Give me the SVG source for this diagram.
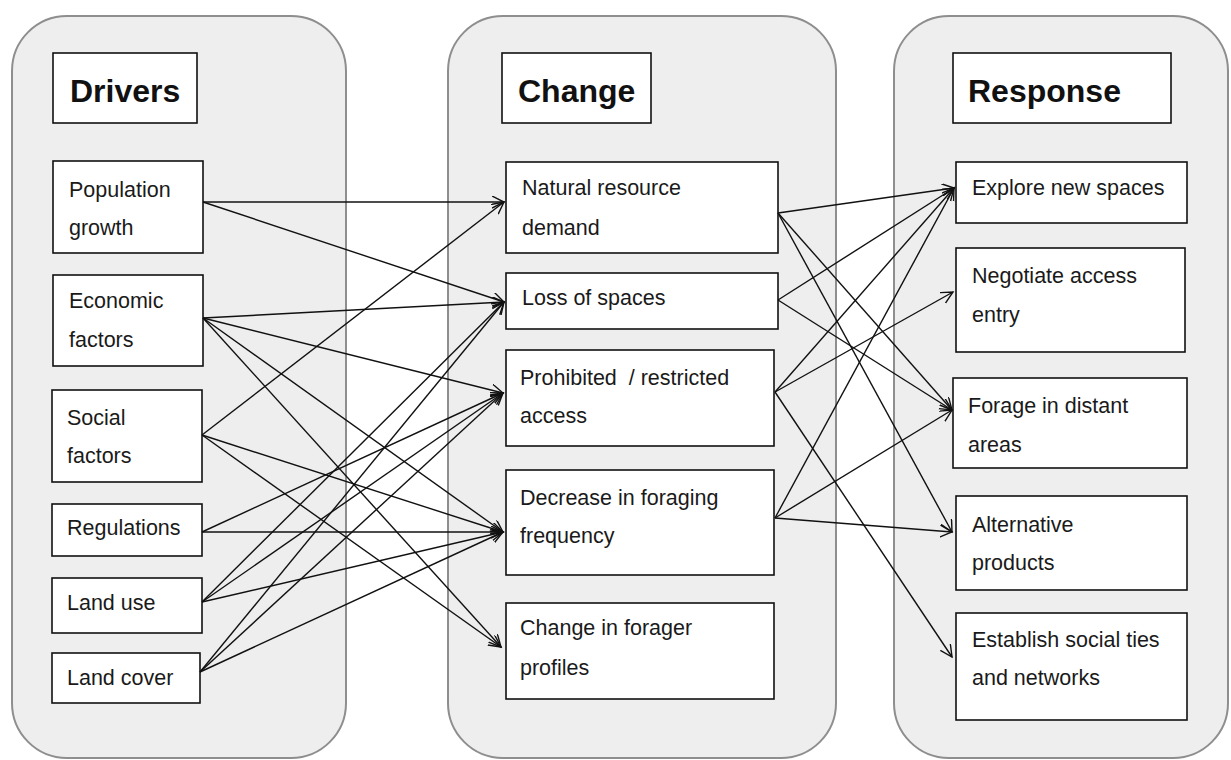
<svg xmlns="http://www.w3.org/2000/svg" width="1231" height="760" viewBox="0 0 1231 760">
<style>
.cont{fill:#eeeeee;stroke:#8e8e8e;stroke-width:2}
.box{fill:#ffffff;stroke:#111111;stroke-width:1.6}
.t{font-family:"Liberation Sans",Arial,sans-serif;font-size:21.5px;fill:#1a1a1a}
.h{font-family:"Liberation Sans",Arial,sans-serif;font-size:32px;font-weight:bold;fill:#111111}
.c line{stroke:#111111;stroke-width:1.4;marker-end:url(#ah)}
</style>
<defs>
<marker id="ah" markerUnits="userSpaceOnUse" markerWidth="14" markerHeight="14" refX="12" refY="6" orient="auto">
<path d="M0,0 L12,6 L0,12" fill="none" stroke="#111111" stroke-width="1.4"/>
</marker>
</defs>
<rect x="0" y="0" width="1231" height="760" fill="#ffffff"/>
<g id="containers">
<rect class="cont" x="12" y="16" width="334" height="742" rx="55"/>
<rect class="cont" x="448" y="16" width="388" height="742" rx="55"/>
<rect class="cont" x="894" y="16" width="334" height="742" rx="55"/>
</g>
<g id="drivers-title"><rect class="box" x="53" y="53" width="144" height="70"/><text class="h" x="70" y="102">Drivers</text></g>
<g id="population"><rect class="box" x="53" y="161" width="150" height="92"/><text class="t" x="69" y="197">Population</text><text class="t" x="69" y="235">growth</text></g>
<g id="economic"><rect class="box" x="53" y="275" width="150" height="91"/><text class="t" x="69" y="308">Economic</text><text class="t" x="69" y="347">factors</text></g>
<g id="social"><rect class="box" x="52" y="390" width="150" height="92"/><text class="t" x="67" y="425">Social</text><text class="t" x="67" y="463">factors</text></g>
<g id="regulations"><rect class="box" x="52" y="504" width="150" height="52"/><text class="t" x="67" y="535">Regulations</text></g>
<g id="landuse"><rect class="box" x="52" y="578" width="150" height="55"/><text class="t" x="67" y="610">Land use</text></g>
<g id="landcover"><rect class="box" x="52" y="653" width="148" height="50"/><text class="t" x="67" y="685">Land cover</text></g>

<g id="change-title"><rect class="box" x="502" y="53" width="149" height="70"/><text class="h" x="518" y="102">Change</text></g>
<g id="nrd"><rect class="box" x="506" y="162" width="272" height="91"/><text class="t" x="522" y="195">Natural resource</text><text class="t" x="522" y="235">demand</text></g>
<g id="los"><rect class="box" x="506" y="273" width="272" height="56"/><text class="t" x="522" y="305">Loss of spaces</text></g>
<g id="prohibited"><rect class="box" x="506" y="350" width="268" height="96"/><text class="t" x="520" y="385" xml:space="preserve">Prohibited  / restricted</text><text class="t" x="520" y="423">access</text></g>
<g id="decrease"><rect class="box" x="506" y="470" width="268" height="105"/><text class="t" x="520" y="505">Decrease in foraging</text><text class="t" x="520" y="543">frequency</text></g>
<g id="profiles"><rect class="box" x="506" y="603" width="268" height="96"/><text class="t" x="520" y="635">Change in forager</text><text class="t" x="520" y="675">profiles</text></g>

<g id="response-title"><rect class="box" x="953" y="53" width="218" height="70"/><text class="h" x="968" y="102">Response</text></g>
<g id="explore"><rect class="box" x="956" y="162" width="231" height="61"/><text class="t" x="972" y="195">Explore new spaces</text></g>
<g id="negotiate"><rect class="box" x="956" y="248" width="229" height="104"/><text class="t" x="972" y="283">Negotiate access</text><text class="t" x="972" y="322">entry</text></g>
<g id="forage"><rect class="box" x="953" y="378" width="234" height="90"/><text class="t" x="968" y="413">Forage in distant</text><text class="t" x="968" y="452">areas</text></g>
<g id="alternative"><rect class="box" x="956" y="496" width="231" height="94"/><text class="t" x="972" y="532">Alternative</text><text class="t" x="972" y="570">products</text></g>
<g id="establish"><rect class="box" x="956" y="613" width="231" height="107"/><text class="t" x="972" y="647">Establish social ties</text><text class="t" x="972" y="685">and networks</text></g>

<g id="connectors" class="c">
<line x1="203" y1="202" x2="504" y2="202"/>
<line x1="203" y1="202" x2="504" y2="302"/>
<line x1="203" y1="318" x2="504" y2="302"/>
<line x1="203" y1="318" x2="503" y2="393"/>
<line x1="203" y1="318" x2="503" y2="532"/>
<line x1="203" y1="318" x2="501" y2="647"/>
<line x1="202" y1="435" x2="504" y2="202"/>
<line x1="202" y1="435" x2="503" y2="532"/>
<line x1="202" y1="435" x2="501" y2="647"/>
<line x1="202" y1="532" x2="503" y2="393"/>
<line x1="202" y1="532" x2="503" y2="532"/>
<line x1="202" y1="602" x2="504" y2="302"/>
<line x1="202" y1="602" x2="503" y2="393"/>
<line x1="202" y1="602" x2="503" y2="532"/>
<line x1="200" y1="672" x2="504" y2="302"/>
<line x1="200" y1="672" x2="503" y2="393"/>
<line x1="200" y1="672" x2="503" y2="532"/>

<line x1="778" y1="213" x2="954" y2="188"/>
<line x1="778" y1="213" x2="952" y2="410"/>
<line x1="778" y1="213" x2="952" y2="532"/>
<line x1="778" y1="300" x2="954" y2="188"/>
<line x1="778" y1="300" x2="952" y2="410"/>
<line x1="775" y1="392" x2="954" y2="188"/>
<line x1="775" y1="392" x2="953" y2="292"/>
<line x1="775" y1="392" x2="952" y2="657"/>
<line x1="775" y1="518" x2="954" y2="188"/>
<line x1="775" y1="518" x2="952" y2="410"/>
<line x1="775" y1="518" x2="952" y2="532"/>
</g>
</svg>
